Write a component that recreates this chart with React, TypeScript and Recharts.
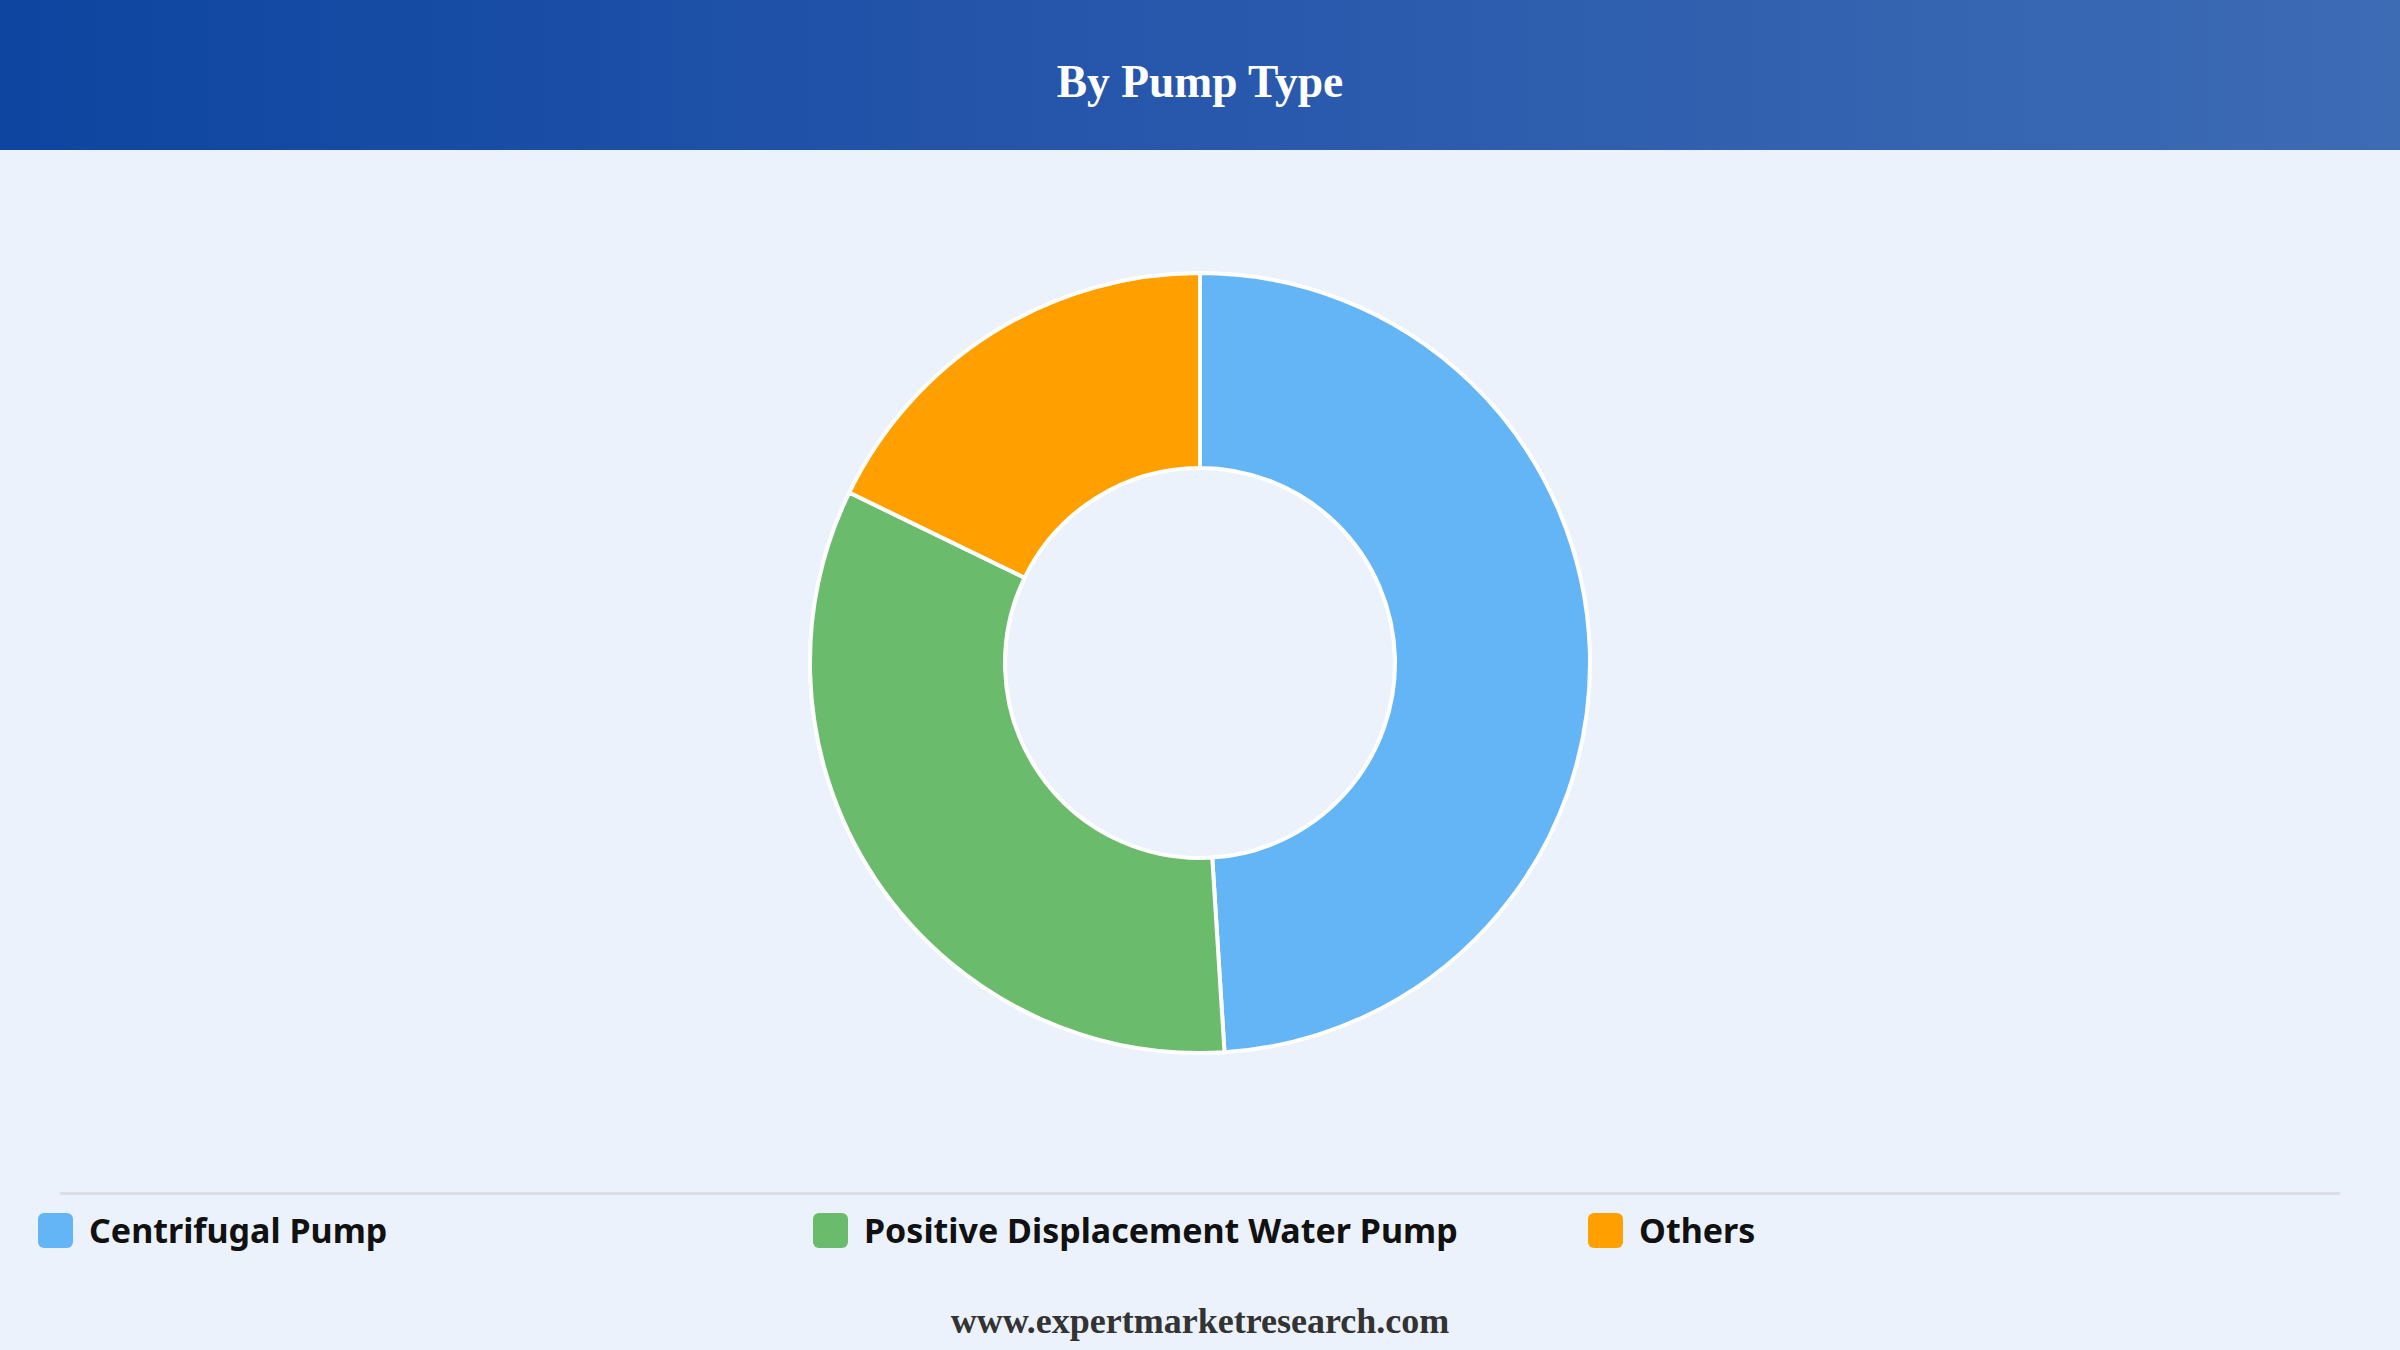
import React from 'react';
import { PieChart, Pie, Cell, Legend } from 'recharts';

const categories = ['Centrifugal Pump', 'Positive Displacement Water Pump', 'Others'];
const shares = [49, 33.2, 17.8];
const colors = ['#64B5F6', '#6ABB6C', '#FFA000'];
const title = 'By Pump Type';
const footer = 'www.expertmarketresearch.com';

const data = categories.map((name, i) => ({ name, value: shares[i] }));

const LegendContent = () => (
  <div style={{ width: 2400, position: 'relative', height: 80 }}>
    <div style={{ position: 'absolute', left: 60, top: 0, width: 2280, height: 3, background: '#DADDE2' }} />
    {categories.map((c, i) => (
      <div
        key={c}
        style={{
          position: 'absolute',
          left: 38 + i * 775,
          top: 20,
          display: 'flex',
          alignItems: 'center',
          height: 36,
        }}
      >
        <div style={{ width: 35, height: 35, borderRadius: 6, background: colors[i], marginRight: 16 }} />
        <span style={{ fontFamily: '"Noto Sans", sans-serif', fontWeight: 700, fontSize: 34, color: '#111', whiteSpace: 'nowrap' }}>{c}</span>
      </div>
    ))}
  </div>
);

export default function App() {
  return (
    <div style={{ position: 'absolute', left: 0, top: 0, width: 2400, height: 1350, background: '#EBF2FB', overflow: 'hidden' }}>
      <div
        style={{
          position: 'absolute', left: 0, top: 0, width: 2400, height: 150,
          background: 'linear-gradient(90deg, #0D45A0 0%, #2858AC 50%, #3D6BB4 100%)',
        }}
      >
        <div style={{ position: 'absolute', left: 0, top: 54, width: 2400, textAlign: 'center', lineHeight: '56px' }}>
          <span style={{ fontFamily: '"Liberation Serif", "Times New Roman", serif', fontWeight: 700, fontSize: 45.5, color: '#fff' }}>{title}</span>
        </div>
      </div>
      <div style={{ position: 'absolute', left: 0, top: 0 }}>
        <PieChart width={2400} height={1350} margin={{ top: 0, right: 0, bottom: 0, left: 0 }}>
          <Pie
            data={data}
            dataKey="value"
            nameKey="name"
            cx={1200}
            cy={663}
            innerRadius={195}
            outerRadius={390}
            startAngle={90}
            endAngle={-270}
            stroke="#ffffff"
            strokeWidth={4}
            isAnimationActive={false}
          >
            {data.map((d, i) => (
              <Cell key={d.name} fill={colors[i]} />
            ))}
          </Pie>
          <Legend content={<LegendContent />} wrapperStyle={{ position: 'absolute', top: 1192, left: 0, width: 2400, bottom: 'auto' }} />
        </PieChart>
      </div>
      <div style={{ position: 'absolute', left: 0, top: 1300, width: 2400, textAlign: 'center' }}>
        <span style={{ fontFamily: '"Liberation Serif", "Times New Roman", serif', fontWeight: 700, fontSize: 36, color: '#333' }}>{footer}</span>
      </div>
    </div>
  );
}
